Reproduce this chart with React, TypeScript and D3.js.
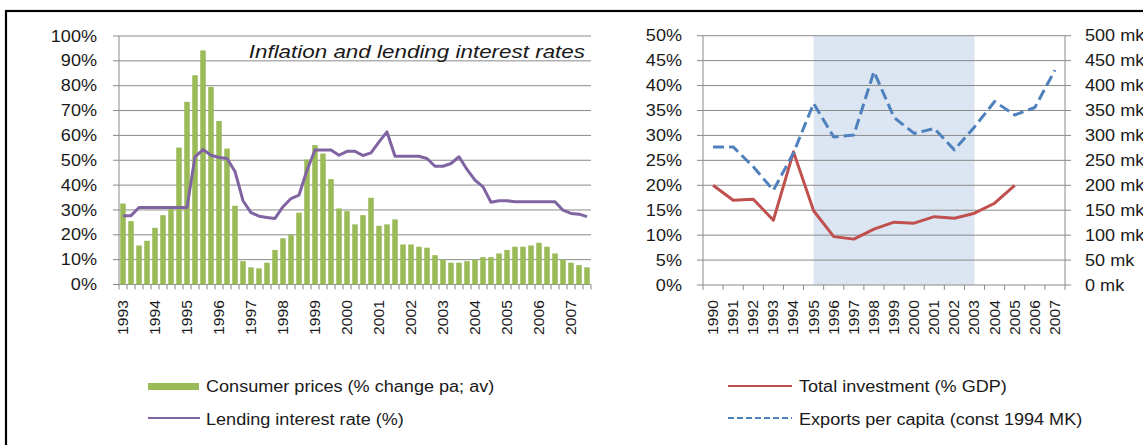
import React from 'react';
import * as d3 from 'd3';

// ---------- Data ----------
const leftYears = ['1993','1994','1995','1996','1997','1998','1999','2000','2001','2002','2003','2004','2005','2006','2007'];
const quarterNames = ['Q1','Q2','Q3','Q4'];
const consumerPrices = [32.6, 25.5, 15.7, 17.6, 22.8, 27.9, 30.3, 55.1, 73.5, 84.2, 94.2, 79.5, 65.8, 54.7, 31.7,
  9.4, 6.9, 6.5, 8.8, 13.9, 18.6, 19.9, 28.9, 50.3, 56.1, 52.7, 42.4, 30.6, 29.5, 24.2, 27.9,
  34.9, 23.6, 24.2, 26.2, 16.1, 16.1, 15.2, 14.8, 11.8, 10.1, 8.8, 8.8, 9.4, 10.1, 11.0, 11.0,
  12.5, 13.9, 15.2, 15.2, 15.7, 16.8, 15.2, 12.5, 10.1, 8.8, 7.8, 6.9];
const lendingRate = [27.7, 27.7, 31.0, 31.0, 31.0, 31.0, 31.0, 31.0, 31.0, 51.4, 54.3, 52.0, 51.1, 50.7, 45.5,
  33.7, 28.9, 27.5, 27.0, 26.6, 31.3, 34.6, 36.0, 46.0, 54.1, 54.1, 54.1, 52.0, 53.6, 53.6, 51.9,
  53.0, 57.4, 61.4, 51.6, 51.6, 51.6, 51.6, 50.7, 47.6, 47.6, 48.7, 51.4, 46.3, 42.0, 39.3, 33.1,
  33.7, 33.7, 33.3, 33.3, 33.3, 33.3, 33.3, 33.3, 29.9, 28.6, 28.3, 27.3];
const leftTicks = [0, 10, 20, 30, 40, 50, 60, 70, 80, 90, 100];

const rightYears = ['1990','1991','1992','1993','1994','1995','1996','1997','1998','1999','2000','2001','2002','2003','2004','2005','2006','2007'];
const investment = [20.0, 17.0, 17.2, 13.0, 26.7, 14.9, 9.7, 9.2, 11.2, 12.6, 12.4, 13.7, 13.4, 14.4, 16.4, 20.0];
const exportsPc = [277, 277, 237, 190, 265, 364, 297, 301, 428, 336, 304, 314, 271, 317, 368, 341, 356, 431];
const rightTicksPct = [0, 5, 10, 15, 20, 25, 30, 35, 40, 45, 50];
const rightTicksMk = [0, 50, 100, 150, 200, 250, 300, 350, 400, 450, 500];
const shadeFrom = '1995';
const shadeTo = '2003';

// ---------- Style ----------
const FONT = '"Liberation Sans", Arial, sans-serif';
const GRID = '#8a8a8a';
const TXT = '#1a1a1a';
const GREEN = '#9BBB59';
const PURPLE = '#8064A2';
const RED = '#C0504D';
const BLUE = '#4F81BD';
const SHADE = '#DCE6F2';

type TProps = { x: number; y: number; anchor?: string; size?: number; rotate?: number; sx?: number; italic?: boolean; dy?: string; children: React.ReactNode };
function T({ x, y, anchor = 'start', size = 16, rotate = 0, sx = 1.13, italic = false, dy = '0.35em', children }: TProps) {
  return (
    <text transform={`translate(${x},${y}) rotate(${rotate}) scale(${sx},1)`} textAnchor={anchor as any}
      fontSize={size} fontStyle={italic ? 'italic' : 'normal'} fontFamily={FONT} fill={TXT} dy={dy}>
      {children}
    </text>
  );
}

export default function App() {
  // Left chart
  const quarters = leftYears.flatMap(y => quarterNames.map(q => `${y}${q}`)).slice(0, consumerPrices.length);
  const lx = d3.scaleBand<string>().domain(quarters).range([119, 591]).paddingInner(0.31).paddingOuter(0.155);
  const lxc = d3.scaleBand<string>().domain(quarters).range([119, 591]);
  const ly = d3.scaleLinear().domain([0, 100]).range([284.5, 36]);
  const lLine = d3.line<number>().x((_, i) => (lxc(quarters[i]) as number) + lxc.bandwidth() / 2).y(d => ly(d));

  // Right chart
  const rx = d3.scaleBand<string>().domain(rightYears).range([703, 1065]);
  const ryP = d3.scaleLinear().domain([0, 50]).range([285, 35.7]);
  const ryM = d3.scaleLinear().domain([0, 500]).range([285, 35.7]);
  const rc = (y: string) => (rx(y) as number) + rx.bandwidth() / 2;
  const invLine = d3.line<number>().x((_, i) => rc(rightYears[i])).y(d => ryP(d));
  const expLine = d3.line<number>().x((_, i) => rc(rightYears[i])).y(d => ryM(d));

  return (
    <svg width={1143} height={445} style={{ position: 'absolute', left: 0, top: 0, background: '#fff' }}>
      <rect x={6} y={11} width={1150} height={500} fill="#fff" stroke="#000" strokeWidth={2.2} />

      {/* ===== Left chart ===== */}
      {leftTicks.map(t => (
        <g key={'lg' + t}>
          <line x1={113} x2={591} y1={ly(t)} y2={ly(t)} stroke={GRID} strokeWidth={1} />
          <T x={97} y={ly(t)} anchor="end" size={16}>{t}%</T>
        </g>
      ))}
      <line x1={119} x2={119} y1={ly(100)} y2={ly(0)} stroke={GRID} strokeWidth={1} />
      {d3.range(quarters.length + 1).map(i => {
        const x = 119 + i * lxc.step();
        return <line key={'lt' + i} x1={x} x2={x} y1={ly(0)} y2={ly(0) + 5} stroke={GRID} strokeWidth={1} />;
      })}
      {consumerPrices.map((v, i) => (
        <rect key={'b' + i} x={lx(quarters[i])} y={ly(v)} width={lx.bandwidth()} height={ly(0) - ly(v)} fill={GREEN} />
      ))}
      <path d={lLine(lendingRate) || ''} fill="none" stroke={PURPLE} strokeWidth={3} strokeLinejoin="round" />
      {leftYears.map(y => (
        <T key={'lx' + y} x={(lxc(`${y}Q1`) as number) + lxc.bandwidth() / 2} y={300} anchor="end" rotate={-90} size={14} sx={1.12}>{y}</T>
      ))}
      <T x={585} y={51} anchor="end" size={19} sx={1.18} italic>Inflation and lending interest rates</T>

      {/* Left legend */}
      <rect x={148} y={383} width={51} height={7} fill={GREEN} />
      <T x={206} y={386} size={16}>Consumer prices (% change pa; av)</T>
      <line x1={148} x2={200} y1={418} y2={418} stroke={PURPLE} strokeWidth={2} />
      <T x={206} y={419} size={16}>Lending interest rate (%)</T>

      {/* ===== Right chart ===== */}
      <rect x={rc(shadeFrom)} y={35.7} width={rc(shadeTo) - rc(shadeFrom)} height={285 - 35.7} fill={SHADE} />
      {rightTicksPct.map((t, i) => (
        <g key={'rg' + t}>
          <line x1={697} x2={1071} y1={ryP(t)} y2={ryP(t)} stroke={GRID} strokeWidth={1} />
          <T x={682} y={ryP(t)} anchor="end" size={16}>{t}%</T>
          <T x={1085} y={ryM(rightTicksMk[i])} anchor="start" size={16}>{rightTicksMk[i]} mk</T>
        </g>
      ))}
      <line x1={703} x2={703} y1={35.7} y2={285} stroke={GRID} strokeWidth={1} />
      <line x1={1065} x2={1065} y1={35.7} y2={285} stroke={GRID} strokeWidth={1} />
      {d3.range(rightYears.length + 1).map(i => {
        const x = 703 + i * rx.step();
        return <line key={'rt' + i} x1={x} x2={x} y1={285} y2={290} stroke={GRID} strokeWidth={1} />;
      })}
      <path d={invLine(investment) || ''} fill="none" stroke={RED} strokeWidth={3} strokeLinejoin="round" />
      <path d={expLine(exportsPc) || ''} fill="none" stroke={BLUE} strokeWidth={3} strokeDasharray="11,5" strokeLinejoin="round" />
      {rightYears.map(y => (
        <T key={'rx' + y} x={rc(y)} y={300} anchor="end" rotate={-90} size={14} sx={1.12}>{y}</T>
      ))}

      {/* Right legend */}
      <line x1={728} x2={792} y1={386} y2={386} stroke={RED} strokeWidth={2} />
      <T x={799} y={386} size={16}>Total investment (% GDP)</T>
      <line x1={728} x2={792} y1={418} y2={418} stroke={BLUE} strokeWidth={2} strokeDasharray="6,3" />
      <T x={799} y={419} size={16}>Exports per capita (const 1994 MK)</T>
    </svg>
  );
}
